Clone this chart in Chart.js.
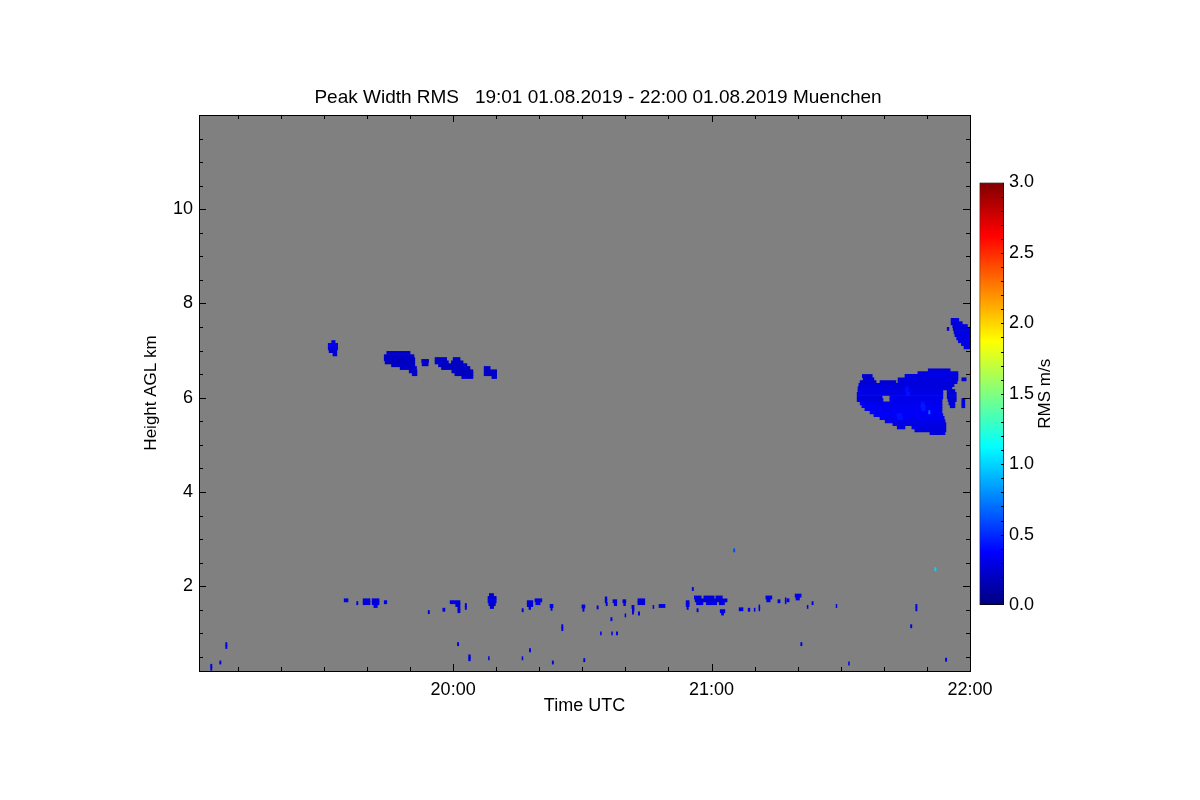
<!DOCTYPE html>
<html>
<head>
<meta charset="utf-8">
<title>Peak Width RMS</title>
<script src="https://cdn.jsdelivr.net/npm/chart.js@4.4.1/dist/chart.umd.min.js"></script>
<style>
  html, body { margin: 0; padding: 0; background: #fff; }
  #wrap { position: relative; width: 1200px; height: 800px; }
  #main { position: absolute; left: 0; top: 0; }
  #bar { position: absolute; left: 970px; top: 0; }
</style>
</head>
<body>
<div id="wrap">
  <canvas id="main" width="1200" height="800"></canvas>
  <canvas id="bar" width="130" height="800"></canvas>
</div>
<script>
// time axis in minutes after 19:00 UTC, height in km AGL
const titleText = 'Peak Width RMS   19:01 01.08.2019 - 22:00 01.08.2019 Muenchen';
const timeRange = [1, 180];
const heightRange = [0.2, 12];
const xTickValues = [60, 120, 180];
const xTickLabels = ['20:00', '21:00', '22:00'];
const yTickValues = [2, 4, 6, 8, 10];
const cbRange = [0, 3];
const cbTickValues = [0, 0.5, 1, 1.5, 2, 2.5, 3];

// echo rows: [height km, start min, end min, RMS m/s]
const cloudA = [
  [7.18, 31.8, 32.6, 0.30],
  [7.12, 31.0, 33.2, 0.35],
  [7.05, 31.0, 33.2, 0.30],
  [6.99, 31.2, 33.0, 0.25],
  [6.92, 32.1, 33.0, 0.25]
];
const cloudB = [
  [6.95, 44.6, 50.0, 0.22],
  [6.88, 44.0, 50.9, 0.22],
  [6.82, 44.0, 51.1, 0.20],
  [6.75, 44.2, 51.1, 0.20],
  [6.69, 45.7, 51.1, 0.20],
  [6.63, 47.7, 51.5, 0.22],
  [6.56, 49.8, 51.6, 0.22],
  [6.50, 50.5, 51.6, 0.22]
];
const cloudC = [
  [6.78, 52.7, 54.3, 0.22],
  [6.71, 52.8, 54.2, 0.22]
];
const cloudD = [
  [6.82, 55.8, 58.5, 0.22],
  [6.82, 60.0, 61.6, 0.22],
  [6.75, 55.8, 58.9, 0.22],
  [6.75, 59.6, 62.3, 0.20],
  [6.69, 56.6, 63.2, 0.20],
  [6.63, 57.3, 63.9, 0.20],
  [6.56, 59.7, 64.6, 0.20],
  [6.50, 60.4, 64.6, 0.20],
  [6.44, 62.0, 64.6, 0.22]
];
const cloudE = [
  [6.63, 67.2, 68.6, 0.22],
  [6.56, 67.2, 70.1, 0.22],
  [6.50, 67.2, 70.1, 0.22],
  [6.44, 69.0, 70.1, 0.22]
];
const cloudF = [
  [6.58, 170.3, 175.4, 0.28],
  [6.52, 167.9, 177.2, 0.30],
  [6.46, 155.0, 157.3, 0.25],
  [6.46, 164.9, 177.2, 0.30],
  [6.39, 155.2, 157.7, 0.25],
  [6.39, 163.3, 177.2, 0.28],
  [6.39, 178.1, 179.1, 0.28],
  [6.33, 154.5, 158.2, 0.25],
  [6.33, 159.1, 162.8, 0.25],
  [6.33, 163.3, 177.0, 0.28],
  [6.27, 154.2, 176.3, 0.28],
  [6.20, 154.0, 175.8, 0.28],
  [6.14, 154.0, 173.7, 0.30],
  [6.14, 174.7, 176.5, 0.26],
  [6.08, 153.8, 173.7, 0.30],
  [6.08, 174.7, 176.8, 0.26],
  [6.01, 153.8, 159.6, 0.28],
  [6.01, 161.4, 173.7, 0.32],
  [6.01, 174.7, 176.8, 0.26],
  [5.95, 153.8, 159.8, 0.28],
  [5.95, 161.4, 173.5, 0.32],
  [5.95, 174.9, 176.8, 0.26],
  [5.95, 178.1, 178.8, 0.28],
  [5.88, 154.5, 173.5, 0.32],
  [5.88, 175.1, 176.5, 0.26],
  [5.88, 178.1, 178.8, 0.28],
  [5.82, 154.9, 173.5, 0.34],
  [5.82, 175.4, 176.5, 0.26],
  [5.82, 178.1, 178.8, 0.28],
  [5.76, 155.6, 173.5, 0.34],
  [5.69, 156.8, 173.5, 0.35],
  [5.63, 157.7, 173.7, 0.36],
  [5.57, 159.1, 174.0, 0.34],
  [5.50, 160.3, 174.2, 0.32],
  [5.44, 162.1, 174.4, 0.30],
  [5.37, 163.1, 164.9, 0.28],
  [5.37, 166.5, 174.4, 0.30],
  [5.31, 167.2, 174.4, 0.28],
  [5.25, 170.7, 174.2, 0.28]
];
// brighter streaks inside the large echo
const cloudFStreaks = [
  [6.20, 165.0, 165.8, 0.40], [6.14, 165.0, 165.8, 0.40], [6.08, 165.2, 166.0, 0.42],
  [5.88, 168.6, 169.4, 0.42], [5.82, 168.6, 169.6, 0.44], [5.76, 168.8, 169.6, 0.44],
  [5.63, 163.0, 164.2, 0.42], [5.57, 163.2, 164.4, 0.42],
  [5.69, 170.4, 170.7, 0.70]
];
const cloudG = [
  [7.65, 175.6, 177.4, 0.28],
  [7.58, 175.6, 178.2, 0.28],
  [7.52, 176.0, 179.4, 0.28],
  [7.46, 174.7, 175.1, 0.28],
  [7.46, 176.1, 180.0, 0.28],
  [7.39, 176.3, 180.0, 0.30],
  [7.33, 176.5, 180.0, 0.30],
  [7.26, 176.9, 180.0, 0.30],
  [7.20, 177.3, 180.0, 0.30],
  [7.14, 178.0, 180.0, 0.30],
  [7.07, 178.6, 180.0, 0.30]
];
const lowBand = [
  [1.70, 34.7, 35.6, 0.30], [1.64, 37.6, 37.9, 0.30],
  [1.70, 39.1, 40.7, 0.30], [1.64, 39.1, 40.7, 0.25],
  [1.70, 41.2, 42.8, 0.30], [1.64, 41.2, 42.8, 0.25], [1.58, 41.6, 42.4, 0.30],
  [1.66, 44.0, 44.6, 0.30], [1.45, 54.2, 54.5, 0.30], [1.50, 57.6, 58.1, 0.30],
  [1.66, 59.3, 61.6, 0.30], [1.60, 60.6, 61.6, 0.25], [1.53, 61.1, 61.6, 0.25], [1.47, 61.1, 61.6, 0.25],
  [1.60, 62.8, 63.1, 0.30], [1.54, 62.8, 63.1, 0.30],
  [1.81, 68.4, 69.4, 0.25], [1.75, 68.1, 70.0, 0.25], [1.68, 68.1, 70.0, 0.30],
  [1.62, 68.3, 69.8, 0.25], [1.56, 68.6, 69.4, 0.25],
  [1.49, 76.0, 76.3, 0.30],
  [1.66, 77.2, 78.5, 0.30], [1.60, 77.2, 78.5, 0.25], [1.54, 77.6, 78.0, 0.30],
  [1.70, 79.0, 80.6, 0.30], [1.64, 79.2, 80.2, 0.30],
  [1.58, 82.5, 83.2, 0.30], [1.52, 82.7, 83.0, 0.30],
  [1.57, 89.9, 90.6, 0.30], [1.50, 90.1, 90.4, 0.30], [1.55, 93.4, 93.7, 0.30],
  [1.74, 95.3, 95.7, 0.30], [1.68, 95.3, 95.7, 0.30], [1.62, 95.5, 95.8, 0.30],
  [1.68, 97.1, 98.0, 0.30], [1.62, 97.4, 98.0, 0.30],
  [1.68, 99.4, 100.1, 0.30], [1.62, 99.6, 100.0, 0.30],
  [1.56, 101.5, 102.0, 0.30], [1.50, 101.6, 102.0, 0.30], [1.44, 101.6, 101.9, 0.30],
  [1.70, 102.9, 104.5, 0.30], [1.64, 102.9, 104.5, 0.25],
  [1.38, 99.9, 100.1, 0.30], [1.42, 103.0, 103.3, 0.30],
  [1.56, 106.4, 106.6, 0.30], [1.58, 107.8, 109.2, 0.30],
  [1.66, 114.1, 114.8, 0.30], [1.60, 114.1, 114.8, 0.30], [1.54, 114.3, 114.6, 0.30],
  [1.94, 115.5, 115.8, 0.30],
  [1.76, 116.0, 117.6, 0.30], [1.76, 118.2, 120.6, 0.30], [1.76, 121.0, 122.5, 0.30],
  [1.70, 116.2, 123.6, 0.25],
  [1.64, 116.5, 118.0, 0.30], [1.64, 118.8, 121.2, 0.30], [1.64, 121.8, 123.0, 0.30],
  [1.49, 116.6, 116.9, 0.30], [1.47, 122.0, 123.1, 0.30], [1.42, 122.3, 122.8, 0.30],
  [1.51, 126.4, 127.3, 0.30], [1.50, 128.5, 128.9, 0.30], [1.50, 129.9, 130.1, 0.30],
  [1.57, 131.0, 131.2, 0.30], [1.51, 131.0, 131.2, 0.30],
  [1.76, 132.6, 134.0, 0.30], [1.70, 132.8, 133.6, 0.30],
  [1.68, 135.4, 135.9, 0.30], [1.72, 137.1, 137.3, 0.30], [1.66, 137.1, 137.3, 0.30],
  [1.70, 137.5, 138.0, 0.30], [1.80, 139.4, 140.8, 0.30], [1.74, 139.6, 140.4, 0.30],
  [1.56, 142.2, 142.4, 0.30], [1.64, 143.3, 143.6, 0.30], [1.58, 148.9, 149.1, 0.30],
  [1.58, 167.4, 167.7, 0.30], [1.51, 167.4, 167.7, 0.30]
];
const specks = [
  [2.76, 125.1, 125.4, 0.60], [2.36, 171.8, 172.1, 1.00],
  [1.30, 96.6, 96.9, 0.30], [1.15, 85.2, 85.5, 0.30], [1.09, 85.2, 85.5, 0.30],
  [1.00, 94.2, 94.4, 0.30], [1.00, 96.8, 97.0, 0.30], [1.00, 97.9, 98.2, 0.30],
  [1.15, 166.2, 166.5, 0.30], [0.77, 61.0, 61.3, 0.30], [0.77, 140.7, 141.0, 0.30],
  [0.64, 77.7, 78.0, 0.30], [0.51, 63.6, 64.0, 0.30], [0.45, 63.6, 64.0, 0.30],
  [0.47, 68.2, 68.4, 0.30], [0.47, 76.0, 76.2, 0.30], [0.38, 83.0, 83.3, 0.30],
  [0.43, 90.3, 90.6, 0.30], [0.36, 151.8, 152.0, 0.30], [0.44, 174.3, 174.6, 0.30],
  [0.77, 7.2, 7.5, 0.30], [0.71, 7.2, 7.5, 0.30], [0.38, 5.8, 6.1, 0.30],
  [0.31, 3.7, 4.0, 0.30], [0.25, 3.7, 4.0, 0.30]
];

const FONT = "'Liberation Sans', Arial, Helvetica, sans-serif";
Chart.defaults.font.family = FONT;
Chart.defaults.color = '#000';

// jet colour table like IDL colour table 'rainbow'
function jet(v) {
  const t = (v - cbRange[0]) / (cbRange[1] - cbRange[0]);
  const c = k => Math.round(255 * Math.max(0, Math.min(1, 1.5 - Math.abs(4 * t - k))));
  return `rgb(${c(3)},${c(2)},${c(1)})`;
}

const cells = [...cloudA, ...cloudB, ...cloudC, ...cloudD, ...cloudE,
  ...cloudF, ...cloudFStreaks, ...cloudG, ...lowBand, ...specks]
  .map(([h, t0, t1, v]) => ({ y: h, x: [t0, t1], v }));

// grey plot background, black frame and inward tick marks on all four sides
const frame = {
  id: 'frame',
  beforeDatasetsDraw(chart) {
    const { ctx, chartArea: a } = chart;
    ctx.save();
    ctx.fillStyle = '#808080';
    ctx.fillRect(a.left, a.top, a.right - a.left, a.bottom - a.top);
    ctx.restore();
  },
  afterDatasetsDraw(chart) {
    const { ctx, chartArea: a, scales: { x, y } } = chart;
    ctx.save();
    ctx.strokeStyle = '#000';
    ctx.lineWidth = 1;
    ctx.beginPath();
    for (let m = 10; m < 180; m += 10) {
      const px = Math.round(x.getPixelForValue(m)) + 0.5;
      const len = m % 60 === 0 ? 7 : 4;
      ctx.moveTo(px, a.bottom); ctx.lineTo(px, a.bottom - len);
      ctx.moveTo(px, a.top); ctx.lineTo(px, a.top + len);
    }
    for (let k = 1; k < 24; k++) {
      const h = k / 2;
      const py = Math.round(y.getPixelForValue(h)) + 0.5;
      const len = h % 2 === 0 ? 7 : 4;
      ctx.moveTo(a.left, py); ctx.lineTo(a.left + len, py);
      ctx.moveTo(a.right, py); ctx.lineTo(a.right - len, py);
    }
    ctx.stroke();
    ctx.strokeRect(Math.round(a.left) + 0.5, Math.round(a.top) + 0.5,
      Math.round(a.right - a.left), Math.round(a.bottom - a.top));
    ctx.restore();
  }
};

new Chart(document.getElementById('main'), {
  type: 'bar',
  data: {
    datasets: [{
      data: cells,
      backgroundColor: c => jet(c.raw ? c.raw.v : 0),
      borderWidth: 0,
      barThickness: 3.2
    }]
  },
  options: {
    indexAxis: 'y',
    responsive: false,
    animation: false,
    events: [],
    layout: { padding: { left: 141, right: 145, top: 0, bottom: 83 } },
    plugins: {
      legend: { display: false },
      tooltip: { enabled: false },
      title: {
        display: true,
        text: titleText,
        color: '#000',
        font: { size: 19, weight: 'normal' },
        padding: { top: 86.6, bottom: 5.6 }
      }
    },
    scales: {
      x: {
        type: 'linear',
        position: 'bottom',
        min: timeRange[0],
        max: timeRange[1],
        beginAtZero: false,
        grid: { display: false, drawTicks: false },
        border: { display: false },
        afterBuildTicks: s => { s.ticks = xTickValues.map(v => ({ value: v })); },
        ticks: {
          autoSkip: false, maxRotation: 0, padding: 8,
          font: { size: 18 },
          callback: (v, i) => xTickLabels[i]
        },
        title: { display: true, text: 'Time UTC', font: { size: 18 }, padding: 0 },
        afterFit: s => { s.height = 46; }
      },
      y: {
        type: 'linear',
        position: 'left',
        min: heightRange[0],
        max: heightRange[1],
        offset: false,
        grid: { display: false, drawTicks: false, offset: false },
        border: { display: false },
        afterBuildTicks: s => { s.ticks = yTickValues.map(v => ({ value: v })); },
        ticks: { padding: 6, font: { size: 18 }, callback: v => String(v) },
        title: { display: true, text: 'Height AGL km', font: { size: 17 }, padding: 0 },
        afterFit: s => { s.width = 58; }
      },
      // empty right box so the title is centred like the original
      yR: {
        type: 'linear',
        position: 'right',
        grid: { display: false, drawTicks: false },
        border: { display: false },
        ticks: { display: false },
        afterFit: s => { s.width = 85; }
      }
    }
  },
  plugins: [frame]
});

// colour bar
const cbDecor = {
  id: 'cbDecor',
  afterDatasetsDraw(chart) {
    const { ctx, chartArea: a, scales: { y } } = chart;
    ctx.save();
    ctx.strokeStyle = '#000';
    ctx.lineWidth = 1;
    ctx.beginPath();
    for (let k = 1; k < 30; k++) {
      const py = Math.round(y.getPixelForValue(k / 10)) + 0.5;
      ctx.moveTo(a.right, py); ctx.lineTo(a.right - 3, py);
    }
    ctx.stroke();
    ctx.translate(75, (a.top + a.bottom) / 2);
    ctx.rotate(-Math.PI / 2);
    ctx.fillStyle = '#000';
    ctx.font = '17px ' + FONT;
    ctx.textAlign = 'center';
    ctx.textBaseline = 'middle';
    ctx.fillText('RMS m/s', 0, 0);
    ctx.restore();
  }
};

function cbGradient(chart) {
  const a = chart.chartArea;
  if (!a) return 'rgba(0,0,0,0)';
  const g = chart.ctx.createLinearGradient(0, a.bottom, 0, a.top);
  for (let i = 0; i <= 24; i++) {
    g.addColorStop(i / 24, jet(cbRange[0] + (cbRange[1] - cbRange[0]) * i / 24));
  }
  return g;
}

new Chart(document.getElementById('bar'), {
  type: 'bar',
  data: {
    labels: ['RMS'],
    datasets: [{
      data: [cbRange],
      backgroundColor: c => cbGradient(c.chart),
      borderColor: '#000',
      borderWidth: 1,
      borderSkipped: false,
      barPercentage: 1,
      categoryPercentage: 1
    }]
  },
  options: {
    responsive: false,
    animation: false,
    events: [],
    layout: { padding: { left: 9.5, right: 56, top: 182.5, bottom: 195 } },
    plugins: { legend: { display: false }, tooltip: { enabled: false } },
    scales: {
      x: { display: false },
      y: {
        position: 'right',
        min: cbRange[0],
        max: cbRange[1],
        grid: { display: false, drawTicks: false },
        border: { display: false },
        afterBuildTicks: s => { s.ticks = cbTickValues.map(v => ({ value: v })); },
        ticks: { padding: 5, font: { size: 18 }, callback: v => v.toFixed(1) },
        afterFit: s => { s.width = 40; }
      }
    }
  },
  plugins: [cbDecor]
});
</script>
</body>
</html>
